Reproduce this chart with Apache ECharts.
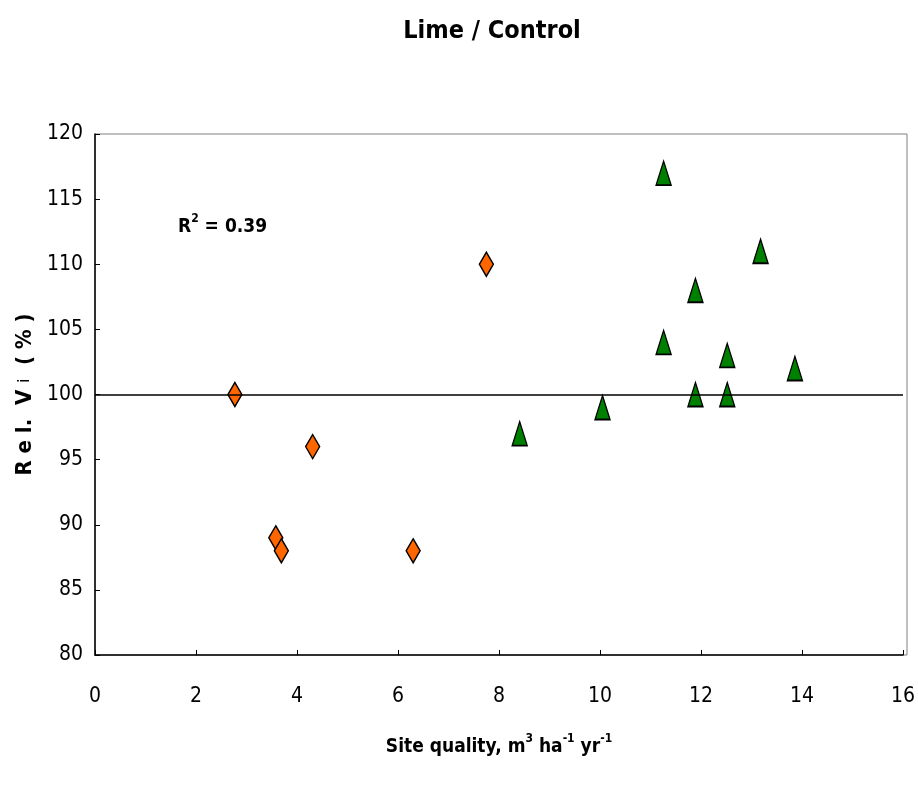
<!DOCTYPE html>
<html>
<head>
<meta charset="utf-8">
<script src="https://cdn.jsdelivr.net/npm/echarts@6/dist/echarts.min.js"></script>
<style>
  html, body { margin: 0; padding: 0; background: #fff; }
  #main { width: 918px; height: 787px; }
</style>
</head>
<body>
<div id="main"></div>
<script>
var FONT = "'Liberation Sans Narrow', 'Arial Narrow', 'DejaVu Sans Condensed', sans-serif";

// orange diamonds
var limeX = [2.77, 3.58, 3.69, 4.31, 6.3, 7.75];
var limeY = [100, 89, 88, 96, 88, 110];
// green triangles
var ctrlX = [8.41, 10.05, 11.26, 11.26, 11.89, 11.89, 12.52, 12.52, 13.18, 13.86];
var ctrlY = [97, 99, 117, 104, 108, 100, 103, 100, 111, 102];

var xTicks = [0, 2, 4, 6, 8, 10, 12, 14, 16];
var yTicks = [80, 85, 90, 95, 100, 105, 110, 115, 120];
var refLine = 100;

function pairs(xs, ys) {
  var out = [];
  for (var i = 0; i < xs.length; i++) out.push([xs[i], ys[i]]);
  return out;
}

var chart = echarts.init(document.getElementById('main'));

var option = {
  backgroundColor: '#fff',
  animation: false,
  title: {
    text: 'Lime / Control',
    left: 487,
    textAlign: 'center',
    top: 14,
    textStyle: { fontFamily: FONT, fontSize: 25, fontWeight: 'bold', color: '#000' }
  },
  grid: { left: 95, right: 11, top: 134, height: 521 },
  xAxis: {
    type: 'value',
    min: xTicks[0], max: xTicks[xTicks.length - 1], interval: 2,
    axisLine: { show: true, onZero: false, lineStyle: { color: '#000', width: 1.5 } },
    axisTick: { show: true, inside: true, length: 5, lineStyle: { color: '#000' } },
    splitLine: { show: false },
    axisLabel: { margin: 31, fontFamily: FONT, fontSize: 21, color: '#000' },
    name: '{b|Site quality, m}{s|3}{b| ha}{s|-1}{b| yr}{s|-1}',
    nameLocation: 'middle',
    nameGap: 78,
    nameTextStyle: {
      rich: {
        b: { fontFamily: FONT, fontSize: 19, fontWeight: 'bold', color: '#000', verticalAlign: 'bottom', lineHeight: 24 },
        s: { fontFamily: FONT, fontSize: 12, fontWeight: 'bold', color: '#000', verticalAlign: 'top', lineHeight: 24, padding: [0, 0, 9, 0] }
      }
    }
  },
  yAxis: {
    type: 'value',
    min: yTicks[0], max: yTicks[yTicks.length - 1], interval: 5,
    axisLine: { show: true, onZero: false, lineStyle: { color: '#000', width: 1.5 } },
    axisTick: { show: true, inside: true, length: 5, lineStyle: { color: '#000' } },
    splitLine: { show: false },
    axisLabel: { margin: 12, fontFamily: FONT, fontSize: 21, color: '#000' },
    name: '{b|R e l.  V }{i|i}{b|  ( % )}',
    nameLocation: 'middle',
    nameRotate: 90,
    nameGap: 57,
    nameTextStyle: {
      rich: {
        b: { fontFamily: FONT, fontSize: 22, fontWeight: 'bold', color: '#000' },
        i: { fontFamily: FONT, fontSize: 16, color: '#000' }
      }
    }
  },
  graphic: [
    {
      type: 'rect',
      shape: { x: 95, y: 134, width: 812, height: 521 },
      style: { fill: 'none', stroke: '#808080', lineWidth: 1 },
      z: -1
    },
    {
      type: 'text',
      left: 178,
      top: 213,
      style: {
        text: '{b|R}{s|2}{b| = 0.39}',
        rich: {
          b: { fontFamily: FONT, fontSize: 19, fontWeight: 'bold', fill: '#000', verticalAlign: 'bottom', lineHeight: 24 },
          s: { fontFamily: FONT, fontSize: 12, fontWeight: 'bold', fill: '#000', verticalAlign: 'top', lineHeight: 24, padding: [0, 0, 9, 0] }
        }
      }
    }
  ],
  series: [
    {
      type: 'line',
      data: [],
      silent: true,
      markLine: {
        silent: true,
        symbol: 'none',
        label: { show: false },
        lineStyle: { color: '#000', width: 1.5, type: 'solid', opacity: 1 },
        data: [{ yAxis: refLine }]
      },
      z: 1
    },
    {
      name: 'Lime',
      type: 'scatter',
      data: pairs(limeX, limeY),
      symbol: 'diamond',
      symbolSize: [14, 24],
      itemStyle: { color: '#FF6600', borderColor: '#000', borderWidth: 1.5, opacity: 1 },
      z: 3
    },
    {
      name: 'Control',
      type: 'scatter',
      data: pairs(ctrlX, ctrlY),
      symbol: 'triangle',
      symbolSize: [15, 24],
      itemStyle: { color: '#008000', borderColor: '#000', borderWidth: 1.5, opacity: 1 },
      z: 3
    }
  ]
};

chart.setOption(option);
</script>
</body>
</html>
